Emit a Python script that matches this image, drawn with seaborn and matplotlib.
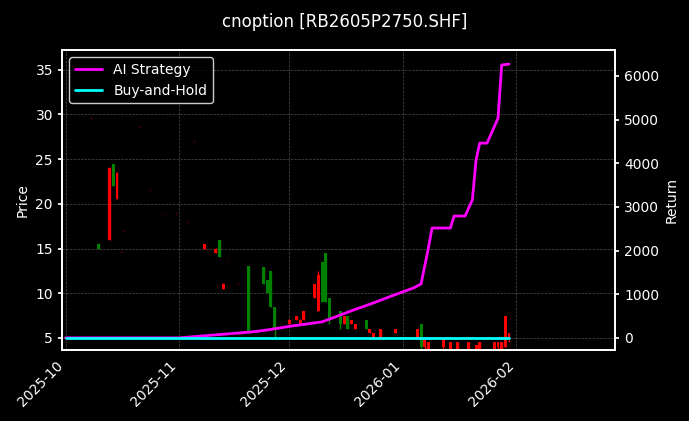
import matplotlib
matplotlib.use("Agg")
import matplotlib.pyplot as plt
import matplotlib.dates as mdates
import seaborn as sns
import pandas as pd
import numpy as np

sns.set_theme(style="dark")
plt.rcParams['font.family'] = ['DejaVu Sans']
plt.rcParams.update({"font.size": 10, "xtick.labelsize": 10, "ytick.labelsize": 10,
                     "axes.labelsize": 10, "legend.fontsize": 10})

# candles: date, open, close, high, low
c_dates = ["2025-10-08","2025-10-10","2025-10-13","2025-10-14","2025-10-15","2025-10-16","2025-10-17",
           "2025-10-21","2025-10-24","2025-10-28","2025-10-31","2025-11-03","2025-11-05","2025-11-08",
           "2025-11-11","2025-11-12","2025-11-13","2025-11-14","2025-11-17","2025-11-20",
           "2025-11-24","2025-11-25","2025-11-26","2025-11-27","2025-12-01","2025-12-03","2025-12-04",
           "2025-12-05","2025-12-08","2025-12-09","2025-12-10","2025-12-11","2025-12-12","2025-12-15",
           "2025-12-16","2025-12-17","2025-12-18","2025-12-19","2025-12-22","2025-12-23","2025-12-24",
           "2025-12-26","2025-12-30","2026-01-05","2026-01-06","2026-01-07","2026-01-08",
           "2026-01-12","2026-01-14","2026-01-16","2026-01-19","2026-01-21","2026-01-22","2026-01-26",
           "2026-01-27","2026-01-28","2026-01-29","2026-01-30"]
c_open = [29.6,15.5,16.0,24.5,20.5,14.6,17.0,28.6,21.5,18.8,19.0,18.0,27.0,15.0,14.5,16.0,10.5,14.0,
          11.0,13.0,12.9,11.5,12.5,8.5,6.5,7.0,6.5,7.0,9.5,8.0,13.5,14.5,9.5,8.0,6.5,7.5,6.5,6.0,7.0,
          5.5,5.0,5.0,5.5,5.0,6.5,4.0,3.6,4.0,3.8,3.6,3.8,3.6,3.7,3.7,4.0,3.8,4.0,5.0]
c_close = [29.6,15.0,24.0,22.0,23.5,14.6,17.0,28.6,21.5,18.8,19.0,18.0,27.0,15.5,15.0,14.0,11.0,14.0,
           11.0,5.5,11.0,10.0,8.5,6.0,7.0,7.5,7.0,8.0,11.0,12.0,9.0,9.0,7.0,6.5,7.5,6.0,7.0,6.5,6.0,
           6.0,5.5,6.0,6.0,6.0,4.0,5.0,4.5,5.0,4.5,4.5,4.5,4.2,4.5,4.5,4.5,4.5,7.5,5.5]
c_high = [29.7,15.6,24.1,24.5,23.6,14.7,17.1,28.7,21.6,18.9,19.1,18.1,27.1,15.5,15.1,16.0,11.1,14.1,
          11.1,13.0,12.9,11.5,12.5,8.5,7.1,7.5,7.1,8.0,11.0,12.5,13.5,14.5,9.5,8.0,7.5,7.5,7.0,6.5,7.0,
          6.0,5.5,6.0,6.0,6.0,6.5,5.0,4.5,5.0,4.5,4.5,4.5,4.2,4.5,4.5,4.5,4.5,7.5,5.5]
c_low = [29.5,15.0,16.0,22.0,20.5,14.5,16.9,28.5,21.4,18.7,18.9,17.9,26.9,15.0,14.5,14.0,10.5,13.9,
         10.9,5.5,11.0,10.0,8.5,5.0,6.5,7.0,6.5,7.0,9.5,8.0,9.0,9.0,6.5,6.0,6.5,6.0,6.5,6.0,6.0,
         5.5,5.0,5.0,5.5,5.0,3.5,3.6,3.5,3.8,3.5,3.6,3.5,3.5,3.6,3.6,3.8,3.6,4.0,4.5]

r_dates = ["2025-10-01","2025-11-01","2025-11-21","2025-11-25","2025-12-02","2025-12-10","2025-12-13",
           "2025-12-18","2025-12-24","2025-12-29","2026-01-04","2026-01-06","2026-01-08","2026-01-09",
           "2026-01-14","2026-01-15","2026-01-18","2026-01-20","2026-01-21","2026-01-22","2026-01-24",
           "2026-01-27","2026-01-28","2026-01-30"]
ai_ret = [0,0,137,180,275,366,460,620,800,960,1145,1235,2060,2515,2515,2790,2790,3160,4070,4460,4460,
          5030,6250,6270]
bh_dates = ["2025-10-01","2026-01-30"]
bh_ret = [0,0]

fig = plt.figure(figsize=(6.89,4.21), dpi=100, facecolor="black")
ax = fig.add_axes([0.09,0.169,0.803,0.712])
ax.set_facecolor("black")
cd = pd.to_datetime(c_dates)
o = np.array(c_open); c = np.array(c_close); h = np.array(c_high); l = np.array(c_low)
doji = np.isclose(o, c)
cols = np.where(doji, "#5a0000", np.where(c > o, "red", "green"))
ax.vlines(cd, l, h, colors=cols, linewidth=1)
ax.bar(cd[~doji], np.abs(c-o)[~doji], bottom=np.minimum(o, c)[~doji], width=0.8,
       color=cols[~doji], linewidth=0)
ax.set_ylim(3.66, 37.2)
ax.set_xlim(pd.Timestamp("2025-09-30"), pd.Timestamp("2026-02-28"))
ax.set_ylabel("Price", color="white")
ax.grid(True, color="gray", linestyle="--", linewidth=0.5, alpha=0.6)

ax2 = ax.twinx()
sns.lineplot(x=pd.to_datetime(r_dates), y=ai_ret, ax=ax2, color="#ff00ff", linewidth=2, label="AI Strategy")
sns.lineplot(x=pd.to_datetime(bh_dates), y=bh_ret, ax=ax2, color="cyan", linewidth=2, label="Buy-and-Hold")
ax2.set_ylim(-275, 6590)
ax2.set_ylabel("Return", color="white")
ax2.grid(False)
ax2.set_xlim(ax.get_xlim())
leg = ax2.legend(loc="upper left", facecolor="black", edgecolor="white", labelcolor="white")

ax.xaxis.set_major_locator(mdates.MonthLocator())
ax.xaxis.set_major_formatter(mdates.DateFormatter("%Y-%m"))
for a in (ax, ax2):
    a.tick_params(colors="white", which="both", length=3)
    for s in a.spines.values():
        s.set_color("white")
for t in ax.get_xticklabels():
    t.set_rotation(45); t.set_ha("right")
fig.suptitle("cnoption [RB2605P2750.SHF]", color="white", y=0.97, fontsize=12)
fig.savefig("out.png", facecolor="black")
